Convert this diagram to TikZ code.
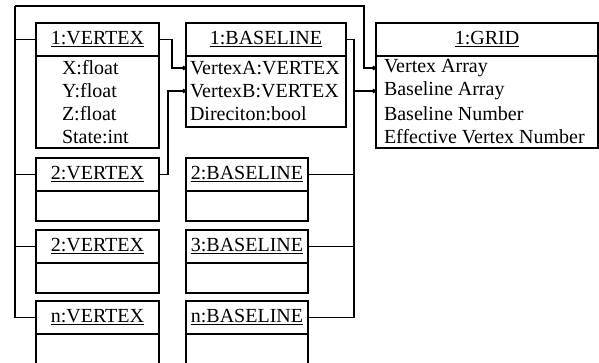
\documentclass[tikz,border=0pt]{standalone}
\usepackage{fontspec}
\setmainfont{Liberation Serif}
\usetikzlibrary{arrows.meta,positioning}

\begin{document}
\begin{tikzpicture}[
  x=1pt, y=-1pt,
  font=\fontsize{20}{23}\selectfont,
  every node/.style={inner sep=0pt, outer sep=0pt},
  hdr/.style={draw, line width=1.6pt, minimum height=33pt, anchor=north west},
  bdy/.style={draw, line width=1.6pt},
  attr/.style={anchor=west, inner xsep=4pt},
  conn/.style={line width=1.1pt},
  dotend/.style={conn, -{Circle[length=4.5pt]}},
]
\useasboundingbox (0,0) rectangle (599,363);

% ---------------------------------------------------------- vertices
\node[hdr, minimum width=123pt] (vh1) at (36,23) {\underline{1:VERTEX}};
\node[bdy, minimum width=123pt, minimum height=92pt, below=0pt of vh1] (vb1) {};
\foreach \t [count=\k] in {X:float, Y:float, Z:float, State:int}
  \node[attr] (va\k) at (58,{45+23*\k}) {\t};

\foreach \i/\t/\y/\h in {2/2/158/30, 3/2/230/30, 4/n/301/32} {
  \node[hdr, minimum width=123pt] (vh\i) at (36,\y) {\underline{\t:VERTEX}};
  \node[bdy, minimum width=123pt, minimum height=\h pt, below=0pt of vh\i] (vb\i) {};
}

% ---------------------------------------------------------- baselines
\node[hdr, minimum width=160pt] (bh1) at (186,23) {\underline{1:BASELINE}};
\node[bdy, minimum width=160pt, minimum height=71pt, below=0pt of bh1] (bb1) {};
\node[attr] (bA) at (186,68) {VertexA:VERTEX};
\node[attr] (bB) at (186,91) {VertexB:VERTEX};
\node[attr] (bC) at (186,114) {Direciton:bool};

\foreach \i/\t/\y/\h in {2/2/158/30, 3/3/230/30, 4/n/301/32} {
  \node[hdr, minimum width=122pt] (bh\i) at (186,\y) {\underline{\t:BASELINE}};
  \node[bdy, minimum width=122pt, minimum height=\h pt, below=0pt of bh\i] (bb\i) {};
}

% ---------------------------------------------------------- grid
\node[hdr, minimum width=222pt] (gh) at (376,23) {\underline{1:GRID}};
\node[bdy, minimum width=222pt, minimum height=92pt, below=0pt of gh] (gb) {};
\node[attr, inner xsep=8pt] (gA) at (376,68) {Vertex Array};
\node[attr, inner xsep=8pt] (gB) at (376,91) {Baseline Array};
\node[attr, inner xsep=8pt] (gC) at (376,114) {Baseline Number};
\node[attr, inner xsep=8pt] (gD) at (376,137) {Effective Vertex Number};

% ---------------------------------------------------------- links
\coordinate (lt) at (15,6);
\coordinate (rt) at (364,6);
\draw[conn] (lt) |- (vh4.west);
\foreach \i in {1,2,3}
  \draw[conn] (vh\i.west) -- (vh\i.west -| lt);
\draw[dotend] (lt) -- (rt) |- (gA.west);

\draw[dotend] (vh1.east) -- ++(13,0) |- (bA.west);
\draw[dotend] (vh2.east) -- ++(9,0) |- (bB.west);

\draw[conn] (bh1.east) -- ++(8,0) coordinate (bbus) |- (bh4.east);
\foreach \i in {2,3}
  \draw[conn] (bh\i.east) -- (bh\i.east -| bbus);
\draw[dotend] (bbus |- gB.west) -- (gB.west);

\end{tikzpicture}
\end{document}
